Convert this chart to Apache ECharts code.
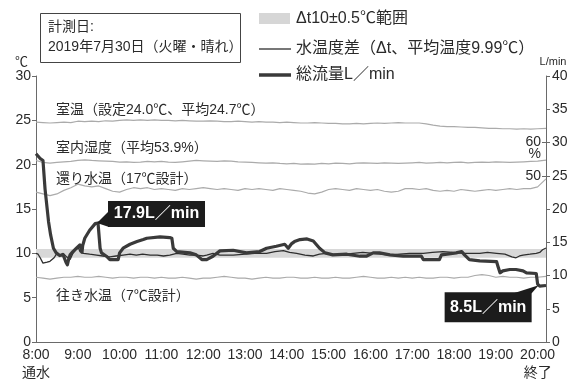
<!DOCTYPE html>
<html>
<head>
<meta charset="utf-8">
<script src="https://cdn.jsdelivr.net/npm/echarts@6/dist/echarts.min.js"></script>
<style>
  html, body { margin: 0; padding: 0; background: #fff; }
  #chart { width: 582px; height: 382px; }
</style>
</head>
<body>
<div id="chart"></div>
<script>
// Time in minutes since 8:00
const flowTime = [0,2,6,10,13,18,21,25,29,34,39,43,45,47,49,53,58,63,66,67,70,77,85,89,90,92,94,101,106,118,120,125,135,145,154,159,178,192,195,197,202,221,230,238,245,254,264,283,302,321,331,345,357,362,367,371,379,389,398,407,415,426,446,465,474,484,493,508,527,553,556,579,582,603,611,615,622,637,661,663,666,670,680,689,699,704,718,720,723,732];
// Total flow (L/min)
const flowVal = [28.3,28.4,27.6,27.3,23.0,18.1,16.1,14.1,13.4,13.0,13.1,12.0,11.6,12.5,13.1,13.6,14.1,14.6,13.5,14.5,15.6,16.8,17.8,17.9,17.9,14.1,13.4,12.9,12.4,12.4,13.4,14.1,14.7,15.1,15.4,15.6,15.8,15.7,15.6,14.1,13.6,13.4,13.1,12.4,12.4,12.9,13.7,13.8,13.4,13.6,14.1,14.4,14.7,14.1,14.8,15.1,15.4,15.5,15.2,14.1,13.4,13.1,13.2,12.9,12.9,13.4,13.4,13.1,12.9,12.9,12.4,12.4,13.1,13.4,13.6,13.1,12.4,12.2,12.1,11.4,10.4,10.7,10.9,10.9,10.7,10.4,10.3,8.7,8.4,8.5];

// Supply/return water temperature difference (°C)
const diffTime = [0,3,6,10,16,20,26,30,34,39,44,49,53,57,61,63,68,77,87,96,106,115,125,135,144,153,164,174,183,192,202,211,221,230,240,245,254,264,283,300,314,331,343,355,364,374,386,398,407,417,426,436,446,455,469,484,495,508,522,536,556,569,584,598,613,624,637,648,661,673,683,689,694,699,709,718,723,727,732];
const diffVal = [10.0,9.9,9.5,8.9,9.0,9.1,9.5,10.0,9.8,10.0,9.6,9.3,10.0,10.4,10.6,10.2,10.0,9.9,9.8,9.7,9.6,9.7,9.8,9.9,9.8,9.9,9.8,9.8,9.7,9.8,10.0,9.9,9.8,9.8,9.7,9.8,10.0,9.8,9.8,9.9,10.0,10.0,10.2,10.3,10.1,10.0,9.8,9.7,9.9,10.0,9.9,9.8,9.9,10.0,10.1,10.0,9.9,9.8,9.9,10.0,10.0,10.1,10.2,10.1,10.0,10.0,10.0,10.1,10.0,9.9,9.6,9.5,9.7,9.8,9.9,10.0,10.1,10.4,10.6];

// Ten-minute log for room and water temperatures, humidity
const logTime = [0,10,20,30,40,50,60,70,80,90,100,110,120,130,140,150,160,170,180,190,200,210,220,230,240,250,260,270,280,290,300,310,320,330,340,350,360,370,380,390,400,410,420,430,440,450,460,470,480,490,500,510,520,530,540,550,560,570,580,590,600,610,620,630,640,650,660,670,680,690,700,710,720,732];
const roomTemp = [24.8,24.75,24.7,24.75,24.8,24.75,24.9,24.85,24.9,24.85,24.95,24.9,25.0,25.05,25.0,25.05,25.0,25.05,25.0,25.0,24.95,25.0,24.95,24.9,24.9,24.95,24.9,24.85,24.85,24.9,24.85,24.8,24.85,24.8,24.8,24.75,24.8,24.75,24.7,24.7,24.75,24.7,24.65,24.65,24.6,24.6,24.65,24.6,24.65,24.7,24.65,24.7,24.75,24.7,24.7,24.7,24.6,24.45,24.35,24.3,24.3,24.25,24.2,24.2,24.15,24.1,24.1,24.05,24.05,24.0,24.05,24.0,24.05,24.1];
const humidity = [54.6,54.0,53.8,54.0,54.2,54.3,54.6,54.8,54.6,54.5,54.4,54.3,54.1,54.2,54.0,54.1,54.3,54.2,54.3,54.1,54.0,54.2,54.4,54.6,54.5,54.4,54.3,54.5,54.4,54.2,54.1,54.0,53.9,53.8,53.9,53.7,53.6,53.7,53.5,53.6,53.5,53.7,53.6,53.8,53.7,53.6,53.8,53.9,53.8,53.7,53.9,53.8,53.7,53.8,53.9,54.0,53.8,53.9,54.0,53.9,54.0,54.1,53.9,54.0,54.1,54.0,54.2,54.1,54.0,54.1,54.2,54.3,54.4,54.7];
const returnTemp = [16.9,16.7,16.5,16.7,17.1,17.4,17.8,17.6,17.5,17.6,17.3,17.0,16.9,17.2,17.4,17.3,17.4,17.2,17.3,17.2,17.1,17.3,17.2,17.3,17.4,17.3,17.2,17.3,17.2,17.1,17.3,17.2,17.3,17.2,17.1,17.3,17.2,17.1,17.0,16.8,16.7,16.9,17.2,17.3,17.2,17.1,17.3,17.2,17.1,17.2,17.0,16.9,17.0,17.3,17.3,17.2,17.3,17.1,17.0,17.1,17.0,17.2,17.1,17.0,17.1,17.2,17.1,17.2,17.3,17.2,17.3,17.3,17.5,18.4];
const supplyTemp = [7.3,7.2,7.1,7.2,7.3,7.3,7.4,7.3,7.3,7.4,7.3,7.2,7.3,7.3,7.2,7.3,7.3,7.2,7.3,7.2,7.2,7.3,7.2,7.1,7.2,7.2,7.3,7.4,7.3,7.2,7.2,7.1,7.2,7.3,7.2,7.2,7.3,7.3,7.2,7.2,7.3,7.2,7.2,7.3,7.2,7.2,7.3,7.4,7.3,7.2,7.2,7.3,7.2,7.3,7.2,7.3,7.2,7.2,7.3,7.3,7.2,7.3,7.3,7.5,7.6,7.5,7.3,7.4,7.3,7.3,7.2,7.3,7.3,7.4];

// Target band: Δt 10 ± 0.5 °C
const bandRange = [9.5, 10.5];

const tempTicks = { min: 0, max: 30, interval: 5 };
const flowTicks = { min: 0, max: 40, interval: 5 };
const humidityLabels = [50, 60];

const FONT = '"Liberation Sans", "Noto Sans CJK JP", sans-serif';
const TXT = '#2a2a2a';
const AXIS = '#6a6a6a';
const GRAY = '#ababab';

const pairs = (xs, ys) => xs.map((x, i) => [x, ys[i]]);

const chart = echarts.init(document.getElementById('chart'), null, { renderer: 'canvas' });

const grayLine = { color: GRAY, width: 1.2 };

const option = {
  animation: false,
  backgroundColor: '#fff',
  textStyle: { fontFamily: FONT },
  grid: { left: 36, right: 36, top: 76, bottom: 37 },
  xAxis: {
    type: 'value', min: 0, max: 732, interval: 60,
    axisLine: { lineStyle: { color: AXIS, width: 1 } },
    axisTick: { show: false },
    splitLine: { show: false },
    axisLabel: {
      color: TXT, fontSize: 14, fontFamily: FONT, margin: 4, lineHeight: 18,
      showMaxLabel: false,
      formatter: v => {
        if (v % 60 !== 0) return '';
        let s = (8 + v / 60) + ':00';
        if (v === 0) s += '\n通水';
        if (v === 720) s += '\n終了';
        return s;
      }
    }
  },
  yAxis: [
    {
      type: 'value', position: 'left', ...tempTicks,
      name: '℃', nameLocation: 'end', nameGap: 14,
      nameTextStyle: { color: TXT, fontSize: 13, align: 'right', verticalAlign: 'middle', padding: [0, 8, 0, 0] },
      axisLine: { show: true, lineStyle: { color: AXIS } },
      axisTick: { show: true, length: 4, lineStyle: { color: AXIS } },
      splitLine: { show: false },
      axisLabel: { color: TXT, fontSize: 14, margin: 5 }
    },
    {
      type: 'value', position: 'right', ...flowTicks,
      name: 'L/min', nameLocation: 'end', nameGap: 14,
      nameTextStyle: { color: TXT, fontSize: 11, align: 'center', verticalAlign: 'middle', padding: [0, 0, 0, 14] },
      axisLine: { show: true, lineStyle: { color: AXIS } },
      axisTick: { show: true, length: 4, lineStyle: { color: AXIS } },
      splitLine: { show: false },
      axisLabel: { color: TXT, fontSize: 14, margin: 6 }
    },
    {
      type: 'value', position: 'right', min: 0, max: 80,
      axisLine: { show: false },
      axisTick: { show: true, inside: true, length: 4, customValues: humidityLabels, lineStyle: { color: AXIS } },
      splitLine: { show: false },
      axisLabel: {
        inside: true, color: TXT, fontSize: 14, margin: 5, lineHeight: 12,
        customValues: humidityLabels,
        formatter: v => v === 60 ? '\n60\n%' : String(v)
      }
    }
  ],
  series: [
    {
      name: '室温', type: 'line', yAxisIndex: 0, symbol: 'none', silent: true,
      lineStyle: grayLine, data: pairs(logTime, roomTemp)
    },
    {
      name: '室内湿度', type: 'line', yAxisIndex: 2, symbol: 'none', silent: true,
      lineStyle: grayLine, data: pairs(logTime, humidity)
    },
    {
      name: '還り水温', type: 'line', yAxisIndex: 0, symbol: 'none', silent: true,
      lineStyle: grayLine, data: pairs(logTime, returnTemp)
    },
    {
      name: '往き水温', type: 'line', yAxisIndex: 0, symbol: 'none', silent: true,
      lineStyle: grayLine, data: pairs(logTime, supplyTemp)
    },
    {
      name: '水温度差', type: 'line', yAxisIndex: 0, symbol: 'none', silent: true, z: 3,
      lineStyle: { color: '#2e2e2e', width: 1.3 },
      data: pairs(diffTime, diffVal),
      markArea: {
        silent: true,
        itemStyle: { color: '#d8d8d8' },
        data: [[{ yAxis: bandRange[0] }, { yAxis: bandRange[1] }]]
      }
    },
    {
      name: '総流量', type: 'line', yAxisIndex: 1, symbol: 'none', silent: true, z: 4,
      lineStyle: { color: '#3a3a3a', width: 3.2, join: 'round' },
      data: pairs(flowTime, flowVal)
    }
  ]
};

chart.setOption(option);

// Annotation texts and callouts
const peakIdx = flowVal.indexOf(Math.max(...flowVal.filter((v, i) => flowTime[i] > 60)));
const lastIdx = flowVal.length - 1;
const peakPt = chart.convertToPixel({ xAxisIndex: 0, yAxisIndex: 1 }, [flowTime[peakIdx], flowVal[peakIdx]]);
const endPt = chart.convertToPixel({ xAxisIndex: 0, yAxisIndex: 1 }, [flowTime[lastIdx - 2], flowVal[lastIdx - 2]]);

const calloutFont = { fill: '#fff', fontSize: 16, fontWeight: 'bold', fontFamily: FONT, align: 'center', verticalAlign: 'middle' };

const label = (x, y, text, size) => ({
  type: 'text', x, y, z: 20,
  style: { text, fill: TXT, fontSize: size, fontFamily: FONT, align: 'left', verticalAlign: 'middle' }
});

const graphic = [
  // measurement date box
  { type: 'rect', z: 20, shape: { x: 40.5, y: 13.5, width: 200, height: 49 }, style: { fill: '#fff', stroke: '#444', lineWidth: 1 } },
  label(48, 27, '計測日:', 14),
  label(48, 47, '2019年7月30日（火曜・晴れ）', 14),
  // legend
  { type: 'rect', z: 20, shape: { x: 259, y: 13, width: 31, height: 11 }, style: { fill: '#d6d6d6' } },
  label(296, 19, 'Δt10±0.5℃範囲', 16),
  { type: 'line', z: 20, shape: { x1: 259, y1: 49, x2: 291, y2: 49 }, style: { stroke: '#2e2e2e', lineWidth: 1.3 } },
  label(296, 49, '水温度差（Δt、平均温度9.99℃）', 16),
  { type: 'line', z: 20, shape: { x1: 259, y1: 75, x2: 291, y2: 75 }, style: { stroke: '#3a3a3a', lineWidth: 3.5 } },
  label(296, 75, '総流量L／min', 16),
  // series names inside the plot
  label(56, 110, '室温（設定24.0℃、平均24.7℃）', 14),
  label(56, 148, '室内湿度（平均53.9%）', 14),
  label(56, 179, '還り水温（17℃設計）', 14),
  label(56, 296, '往き水温（7℃設計）', 14),
  // peak flow callout
  { type: 'polygon', z: 20, shape: { points: [[peakPt[0] - 1, peakPt[1]], [peakPt[0] + 11, peakPt[1] - 12], [peakPt[0] + 11, peakPt[1] + 4]] }, style: { fill: '#1c1c1c' } },
  { type: 'rect', z: 20, shape: { x: peakPt[0] + 10, y: peakPt[1] - 22, width: 97, height: 26 }, style: { fill: '#1c1c1c' } },
  { type: 'text', z: 21, x: peakPt[0] + 58.5, y: peakPt[1] - 9, style: { ...calloutFont, text: flowVal[peakIdx].toFixed(1) + 'L／min' } },
  // final flow callout
  { type: 'polygon', z: 20, shape: { points: [[endPt[0] + 1, endPt[1] + 1], [endPt[0] - 24, endPt[1] + 9], [endPt[0] - 6, endPt[1] + 9]] }, style: { fill: '#1c1c1c' } },
  { type: 'rect', z: 20, shape: { x: endPt[0] - 93, y: endPt[1] + 8, width: 87, height: 30 }, style: { fill: '#1c1c1c' } },
  { type: 'text', z: 21, x: endPt[0] - 49.5, y: endPt[1] + 23, style: { ...calloutFont, text: flowVal[lastIdx].toFixed(1) + 'L／min' } }
];

chart.setOption({ graphic });
</script>
</body>
</html>
